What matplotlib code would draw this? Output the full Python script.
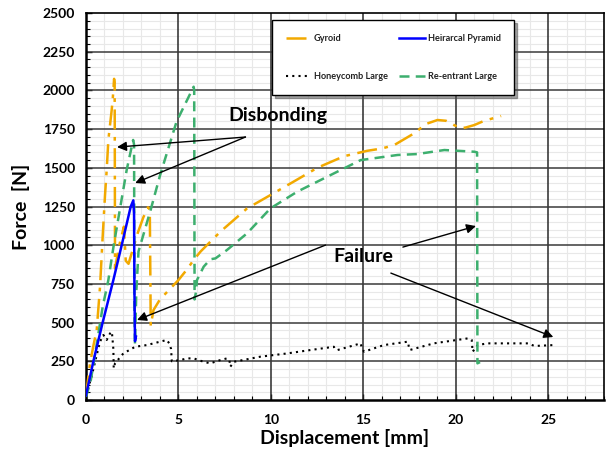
import matplotlib
matplotlib.use("Agg")
import matplotlib.pyplot as plt
from matplotlib.ticker import MultipleLocator

# ---- data ----
gyroid_x = [0, 0.22, 0.4, 0.58, 0.76, 0.9, 1.03, 1.12, 1.21, 1.39, 1.45, 1.52, 1.55, 1.56, 1.57,
            1.8, 2.05, 2.15, 2.3, 2.8, 3.1, 3.35, 3.45, 3.48, 3.5, 3.65, 4.0, 5.0, 5.5, 5.82,
            6.2, 7.26, 8.71, 9.97, 11.5, 12.5, 13.95, 15.2, 16.0, 16.66, 17.74, 18.37, 19.0,
            19.46, 19.9, 20.27, 20.54, 20.98, 21.53, 22.44]
gyroid_y = [30, 237, 350, 452, 732, 1050, 1324, 1486, 1680, 1873, 1950, 2075, 2050, 1500, 850,
            1000, 1120, 900, 880, 1080, 1180, 1245, 1230, 800, 480, 581, 650, 775, 850, 905,
            960, 1087, 1238, 1324, 1430, 1500, 1575, 1610, 1625, 1647, 1723, 1783, 1809,
            1804, 1776, 1755, 1761, 1776, 1804, 1835]

pyramid_x = [0, 0.4, 0.9, 1.48, 1.93, 2.42, 2.56, 2.6, 2.62, 2.65, 2.7]
pyramid_y = [30, 250, 500, 775, 1000, 1250, 1290, 1200, 700, 380, 410]

honeycomb_x = [0, 0.3, 0.6, 0.76, 0.94, 1.12, 1.30, 1.40, 1.48, 1.50, 1.57, 2.02, 2.66, 3.29,
               4.01, 4.37, 4.50, 4.60, 4.64, 5.1, 5.46, 5.82, 6.36, 6.72, 7.26, 7.62, 7.75,
               7.8, 8.0, 9.43, 10.88, 12.14, 13.4, 13.45, 13.6, 14.85, 14.9, 15.03, 16.1,
               17.4, 17.45, 17.5, 18.8, 20.63, 20.85, 20.9, 21.17, 21.7, 23.9, 24.24, 25.3]
honeycomb_y = [30, 150, 300, 377, 420, 388, 430, 441, 330, 205, 237, 301, 344, 355,
               377, 388, 366, 330, 250, 258, 269, 269, 247, 237, 258, 269, 260,
               215, 247, 280, 301, 323, 344, 330, 323, 366, 340, 312, 355,
               377, 345, 323, 366, 398, 388, 312, 355, 366, 366, 349, 355]

reentrant_x = [0, 0.25, 0.5, 0.9, 1.21, 1.5, 2.2, 2.55, 2.6, 2.62, 2.65, 2.72, 2.84, 3.5, 4.0,
               4.9, 5.82, 5.85, 5.87, 5.95, 6.0, 6.36, 6.72, 7.0, 7.62, 8.71, 9.97, 11.42,
               13.4, 14.85, 16.84, 17.9, 19.37, 21.0, 21.14, 21.16, 21.3]
reentrant_y = [20, 120, 300, 600, 775, 1000, 1486, 1680, 1650, 600, 360, 700, 960, 1230, 1450,
               1800, 2024, 2000, 650, 700, 775, 861, 909, 915, 969, 1077, 1238, 1346,
               1464, 1550, 1583, 1589, 1615, 1604, 1600, 237, 245]

labels = ["Gyroid", "Heirarcal Pyramid", "Honeycomb Large", "Re-entrant Large"]
x_ticks = [0, 5, 10, 15, 20, 25]
y_ticks = [0, 250, 500, 750, 1000, 1250, 1500, 1750, 2000, 2250, 2500]

plt.rcParams['font.family'] = ['Lato', 'DejaVu Sans']
fig = plt.figure(figsize=(6.08, 4.66), dpi=100)
ax = fig.add_axes([0.1414, 0.1416, 0.9934 - 0.1414, 0.972 - 0.1416])

ax.set_xlim(0, 28)
ax.set_ylim(0, 2500)
ax.set_xticks(x_ticks)
ax.set_yticks(y_ticks)
ax.xaxis.set_minor_locator(MultipleLocator(1))
ax.yaxis.set_minor_locator(MultipleLocator(50))
ax.grid(which='minor', color='#e8e8e8', lw=0.8, zorder=0)
for xv in x_ticks[1:]:
    ax.axvline(xv, color='#2a2a2a', lw=1.1, zorder=1)
for yv in y_ticks[1:-1]:
    ax.axhline(yv, color='#3a3a3a', lw=1.1, zorder=1)
ax.set_axisbelow(True)
ax.tick_params(which='both', direction='in', labelsize=10)
ax.tick_params(which='major', length=4, width=1)
ax.tick_params(which='minor', length=3, width=0.8)
ax.tick_params(axis='x', which='major', pad=10)
ax.tick_params(axis='y', which='major', pad=8)
for lab in ax.get_xticklabels() + ax.get_yticklabels():
    lab.set_fontweight('bold')
for s in ax.spines.values():
    s.set_color('black')
    s.set_linewidth(1.2)
ax.spines['left'].set_linewidth(1.8)
ax.spines['bottom'].set_linewidth(1.8)

h1, = ax.plot(gyroid_x, gyroid_y, color='#F2A900', lw=1.8, dashes=(8, 3, 1.5, 3), label=labels[0], zorder=3)
h2, = ax.plot(pyramid_x, pyramid_y, color='#0000FF', lw=1.8, label=labels[1], zorder=4)
h3, = ax.plot(honeycomb_x, honeycomb_y, color='black', lw=1.5, dashes=(1, 2), label=labels[2], zorder=3)
h4, = ax.plot(reentrant_x, reentrant_y, color='#3DAF6E', lw=1.8, dashes=(4, 2.5), label=labels[3], zorder=3)

ax.set_xlabel("Displacement [mm]", fontsize=14, fontweight='bold', labelpad=2)
ax.set_ylabel("Force  [N]", fontsize=14, fontweight='bold', labelpad=9)

leg = ax.legend(handles=[h1, h3, h2, h4], ncol=2, loc='upper left',
                bbox_to_anchor=(0.359, 0.982), fontsize=6.6, frameon=True, fancybox=False,
                shadow=True, edgecolor='black', borderpad=1.5, labelspacing=3.2,
                columnspacing=1.2, handlelength=2.8, handletextpad=0.3, borderaxespad=0)
leg.get_frame().set_linewidth(1.0)
for t in leg.get_texts():
    t.set_fontweight('bold')
    t.set_color('#222222')

arrow_kw = dict(arrowstyle='-|>', color='black', lw=1.0, mutation_scale=14, shrinkA=0, shrinkB=0)
ax.text(10.4, 1841, "Disbonding", fontsize=14, fontweight='bold', ha='center', va='center')
ax.annotate("", xy=(1.68, 1634), xytext=(8.62, 1699), arrowprops=arrow_kw)
ax.annotate("", xy=(2.66, 1402), xytext=(8.62, 1699), arrowprops=arrow_kw)

ax.text(15.0, 930, "Failure", fontsize=14, fontweight='bold', ha='center', va='center')
ax.annotate("", xy=(2.76, 517), xytext=(12.95, 1001), arrowprops=arrow_kw)
ax.annotate("", xy=(21.08, 1124), xytext=(17.13, 988), arrowprops=arrow_kw)
ax.annotate("", xy=(25.26, 407), xytext=(16.48, 820), arrowprops=arrow_kw)

fig.savefig("out.png", dpi=100)
